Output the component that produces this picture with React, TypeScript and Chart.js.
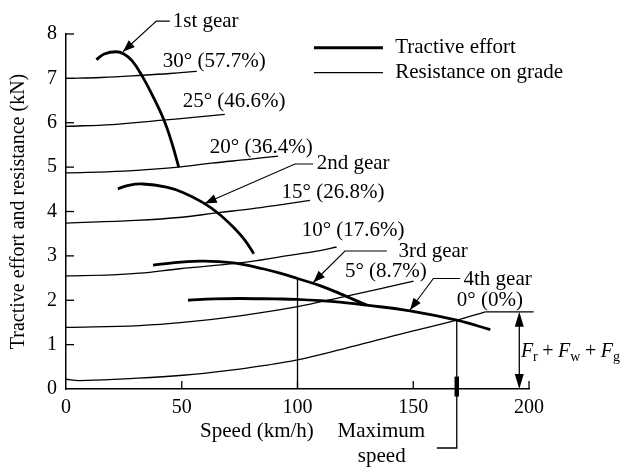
import React, { useEffect, useRef } from "react";
import { Chart, registerables } from "chart.js";

Chart.register(...registerables);

const FONT = '"Liberation Serif", "Times New Roman", serif';

// ---- data (speed km/h, force kN) ----
const speedTicks = [0, 50, 100, 150, 200];
const forceTicks = [0, 1, 2, 3, 4, 5, 6, 7, 8];

const gear1: [number, number][] = [[13.1, 7.42], [16.5, 7.55], [21.7, 7.6], [25, 7.55], [28.5, 7.4], [32.5, 7.09], [37.5, 6.6], [42.3, 6.06], [45.7, 5.55], [48.7, 5.0]];
const gear2: [number, number][] = [[22.4, 4.51], [27, 4.59], [33.2, 4.62], [43.4, 4.55], [50.5, 4.43], [59.2, 4.2], [66, 3.95], [72, 3.66], [77, 3.37], [81.1, 3.05]];
const gear3: [number, number][] = [[37.6, 2.79], [47, 2.85], [57.8, 2.88], [66, 2.87], [75.1, 2.82], [85, 2.71], [92.4, 2.61], [100, 2.49], [109.7, 2.33], [118.3, 2.15], [129.9, 1.89]];
const gear4: [number, number][] = [[52.7, 2.0], [64, 2.03], [75.1, 2.04], [90, 2.03], [99.6, 2.02], [118.3, 1.96], [129.9, 1.89], [148.6, 1.76], [168.8, 1.55], [183.3, 1.34]];

const grade30: [number, number][] = [[0, 7.0], [15, 7.02], [33, 7.07], [45, 7.11], [56.5, 7.16]];
const grade25: [number, number][] = [[0, 5.92], [20, 5.96], [41.9, 6.06], [55, 6.12], [68.6, 6.19]];
const grade20: [number, number][] = [[0, 4.87], [25, 4.91], [48.7, 5.0], [62.8, 5.09], [80, 5.18], [91.6, 5.25]];
const grade15: [number, number][] = [[0, 3.74], [30, 3.8], [50, 3.87], [65, 3.97], [80, 4.06], [92.4, 4.15], [105.4, 4.25]];
const grade10: [number, number][] = [[0, 2.55], [20, 2.57], [31.8, 2.61], [49.1, 2.71], [75.1, 2.84], [95, 3.0], [109.7, 3.12], [116.9, 3.2]];
const grade5: [number, number][] = [[0, 1.39], [31.8, 1.43], [50.5, 1.5], [75.1, 1.65], [99.4, 1.85], [118.3, 2.06], [135, 2.25], [150.1, 2.43]];
const grade0: [number, number][] = [[0, 0.22], [5.8, 0.19], [25, 0.23], [50.5, 0.31], [75, 0.45], [87, 0.54], [99.4, 0.65], [118, 0.88], [138.6, 1.16], [168.8, 1.55], [181.1, 1.74]];

const maxSpeed = 168.8;
const maxSpeedForce = 1.55;
const resistanceRefForce = 1.74;

// ---- annotation layout (in axis units) ----
const gradeLabels = [
  { text: "30° (57.7%)", x: 41.8, y: 7.37 },
  { text: "25° (46.6%)", x: 50.4, y: 6.49 },
  { text: "20° (36.4%)", x: 62.1, y: 5.44 },
  { text: "15° (26.8%)", x: 93.1, y: 4.43 },
  { text: "10° (17.6%)", x: 101.8, y: 3.57 },
  { text: "5° (8.7%)", x: 120.5, y: 2.64 },
  { text: "0° (0%)", x: 168.8, y: 2.0 },
];

const gearLabels = [
  { text: "1st gear", x: 46.1, y: 8.29, path: [[44.8, 8.29], [39.0, 8.29], [24.6, 7.6]] },
  { text: "2nd gear", x: 108.3, y: 5.08, path: [[106.8, 5.07], [98.9, 5.07], [59.9, 4.18]] },
  { text: "3rd gear", x: 143.6, y: 3.11, path: [[138.6, 3.11], [120.5, 3.11], [106.8, 2.4]] },
  { text: "4th gear", x: 171.7, y: 2.47, path: [[170.3, 2.49], [158.7, 2.49], [148.6, 1.78]] },
];

function arrowHead(ctx: CanvasRenderingContext2D, fx: number, fy: number, tx: number, ty: number, len: number, half: number) {
  const a = Math.atan2(ty - fy, tx - fx);
  ctx.beginPath();
  ctx.moveTo(tx, ty);
  ctx.lineTo(tx - len * Math.cos(a) + half * Math.sin(a), ty - len * Math.sin(a) - half * Math.cos(a));
  ctx.lineTo(tx - len * Math.cos(a) - half * Math.sin(a), ty - len * Math.sin(a) + half * Math.cos(a));
  ctx.closePath();
  ctx.fill();
}

const annotationPlugin = {
  id: "annotations",
  afterDraw(chart: any) {
    const { ctx, scales } = chart;
    const X = (v: number) => scales.x.getPixelForValue(v);
    const Y = (v: number) => scales.y.getPixelForValue(v);
    ctx.save();
    ctx.strokeStyle = "#000";
    ctx.fillStyle = "#000";
    ctx.lineCap = "butt";

    // inward ticks
    ctx.lineWidth = 1.3;
    forceTicks.forEach((t) => {
      if (t === 0) return;
      ctx.beginPath();
      ctx.moveTo(X(0), Y(t));
      ctx.lineTo(X(0) + 8, Y(t));
      ctx.stroke();
    });
    speedTicks.forEach((t) => {
      if (t === 0) return;
      ctx.beginPath();
      ctx.moveTo(X(t), Y(0));
      ctx.lineTo(X(t), Y(0) - 8);
      ctx.stroke();
    });

    // vertical line at 100 km/h
    ctx.lineWidth = 1.3;
    ctx.beginPath();
    ctx.moveTo(X(100), Y(0));
    ctx.lineTo(X(100), Y(2.49));
    ctx.stroke();

    // maximum speed line
    ctx.beginPath();
    ctx.moveTo(X(maxSpeed), Y(maxSpeedForce));
    ctx.lineTo(X(maxSpeed), Y(-1.33));
    ctx.lineTo(X(160.2), Y(-1.33));
    ctx.stroke();
    ctx.lineWidth = 4.5;
    ctx.beginPath();
    ctx.moveTo(X(maxSpeed), Y(0.28));
    ctx.lineTo(X(maxSpeed), Y(-0.17));
    ctx.stroke();

    // resistance reference line and double arrow
    ctx.lineWidth = 1.3;
    ctx.beginPath();
    ctx.moveTo(X(181.1), Y(resistanceRefForce));
    ctx.lineTo(X(202), Y(resistanceRefForce));
    ctx.stroke();
    const ax = X(195.8);
    ctx.beginPath();
    ctx.moveTo(ax, Y(resistanceRefForce) + 10);
    ctx.lineTo(ax, Y(0) - 10);
    ctx.stroke();
    arrowHead(ctx, ax, Y(1), ax, Y(resistanceRefForce), 15, 4.5);
    arrowHead(ctx, ax, Y(1), ax, Y(0), 15, 4.5);

    // legend
    ctx.lineWidth = 3;
    ctx.beginPath();
    ctx.moveTo(X(107.1), Y(7.69));
    ctx.lineTo(X(136.9), Y(7.69));
    ctx.stroke();
    ctx.lineWidth = 1.3;
    ctx.beginPath();
    ctx.moveTo(X(107.1), Y(7.13));
    ctx.lineTo(X(136.9), Y(7.13));
    ctx.stroke();

    ctx.font = `21px ${FONT}`;
    ctx.textBaseline = "middle";
    ctx.textAlign = "left";
    ctx.fillText("Tractive effort", X(142.2), Y(7.69));
    ctx.fillText("Resistance on grade", X(142.2), Y(7.13));

    // grade labels
    gradeLabels.forEach((l) => ctx.fillText(l.text, X(l.x), Y(l.y)));

    // gear labels with leaders
    ctx.lineWidth = 1.1;
    gearLabels.forEach((g) => {
      ctx.fillText(g.text, X(g.x), Y(g.y));
      ctx.beginPath();
      g.path.forEach((p, i) => {
        if (i === 0) ctx.moveTo(X(p[0]), Y(p[1]));
        else ctx.lineTo(X(p[0]), Y(p[1]));
      });
      ctx.stroke();
      const n = g.path.length;
      arrowHead(ctx, X(g.path[n - 2][0]), Y(g.path[n - 2][1]), X(g.path[n - 1][0]), Y(g.path[n - 1][1]), 12, 4.5);
    });

    // axis title and max speed label
    ctx.textAlign = "center";
    ctx.fillText("Speed (km/h)", X(82.5), Y(-0.96));
    ctx.fillText("Maximum", X(136.2), Y(-0.96));
    ctx.fillText("speed", X(136.4), Y(-1.52));

    // Fr + Fw + Fg
    ctx.textAlign = "left";
    let cx = X(196.5);
    const cy = Y(0.84);
    const parts: [string, string][] = [["F", "i"], ["r", "s"], ["\u2009+\u2009", "n"], ["F", "i"], ["w", "s"], ["\u2009+\u2009", "n"], ["F", "i"], ["g", "s"]];
    parts.forEach(([t, k]) => {
      if (k === "i") ctx.font = `italic 20px ${FONT}`;
      else if (k === "s") ctx.font = `14px ${FONT}`;
      else ctx.font = `20px ${FONT}`;
      ctx.fillText(t, cx, k === "s" ? cy + 6 : cy);
      cx += ctx.measureText(t).width + (k === "i" ? 0 : 0.5);
    });

    ctx.restore();
  },
};

function series(pts: [number, number][], width: number) {
  return {
    data: pts.map(([x, y]) => ({ x, y })),
    showLine: true,
    borderColor: "#000",
    backgroundColor: "#000",
    borderWidth: width,
    pointRadius: 0,
    tension: 0.4,
    fill: false,
  };
}

export default function App() {
  const ref = useRef<HTMLCanvasElement>(null);
  useEffect(() => {
    if (!ref.current) return;
    const tickFont = { family: FONT, size: 20 };
    const chart = new Chart(ref.current, {
      type: "scatter",
      data: {
        datasets: [
          series(grade30, 1.3),
          series(grade25, 1.3),
          series(grade20, 1.3),
          series(grade15, 1.3),
          series(grade10, 1.3),
          series(grade5, 1.3),
          series(grade0, 1.3),
          series(gear1, 2.8),
          series(gear2, 2.8),
          series(gear3, 2.8),
          series(gear4, 2.8),
        ],
      },
      options: {
        responsive: false,
        animation: false,
        events: [],
        layout: { padding: { left: 0, top: 34, right: 93, bottom: 0 } },
        plugins: { legend: { display: false }, tooltip: { enabled: false } },
        scales: {
          x: {
            type: "linear",
            min: 0,
            max: 200,
            afterFit: (s: any) => { s.height = 79; },
            afterBuildTicks: (s: any) => { s.ticks = speedTicks.map((v) => ({ value: v })); },
            ticks: { font: tickFont, color: "#000", padding: 7, maxRotation: 0 },
            grid: { display: false, drawTicks: false },
            border: { display: true, color: "#000", width: 1.5 },
          },
          y: {
            type: "linear",
            min: 0,
            max: 8,
            afterFit: (s: any) => { s.width = 66; },
            afterBuildTicks: (s: any) => { s.ticks = forceTicks.map((v) => ({ value: v })); },
            ticks: { font: tickFont, color: "#000", padding: 9 },
            grid: { display: false, drawTicks: false },
            border: { display: true, color: "#000", width: 1.5 },
            title: {
              display: true,
              text: "Tractive effort and resistance (kN)",
              font: { family: FONT, size: 20 },
              color: "#000",
              padding: { top: 7, bottom: 0 },
            },
          },
        },
      },
      plugins: [annotationPlugin],
    });
    return () => chart.destroy();
  }, []);
  return (
    <div style={{ position: "absolute", left: 0, top: 0, width: 622, height: 468, background: "#fff" }}>
      <canvas ref={ref} width={622} height={468} />
    </div>
  );
}
